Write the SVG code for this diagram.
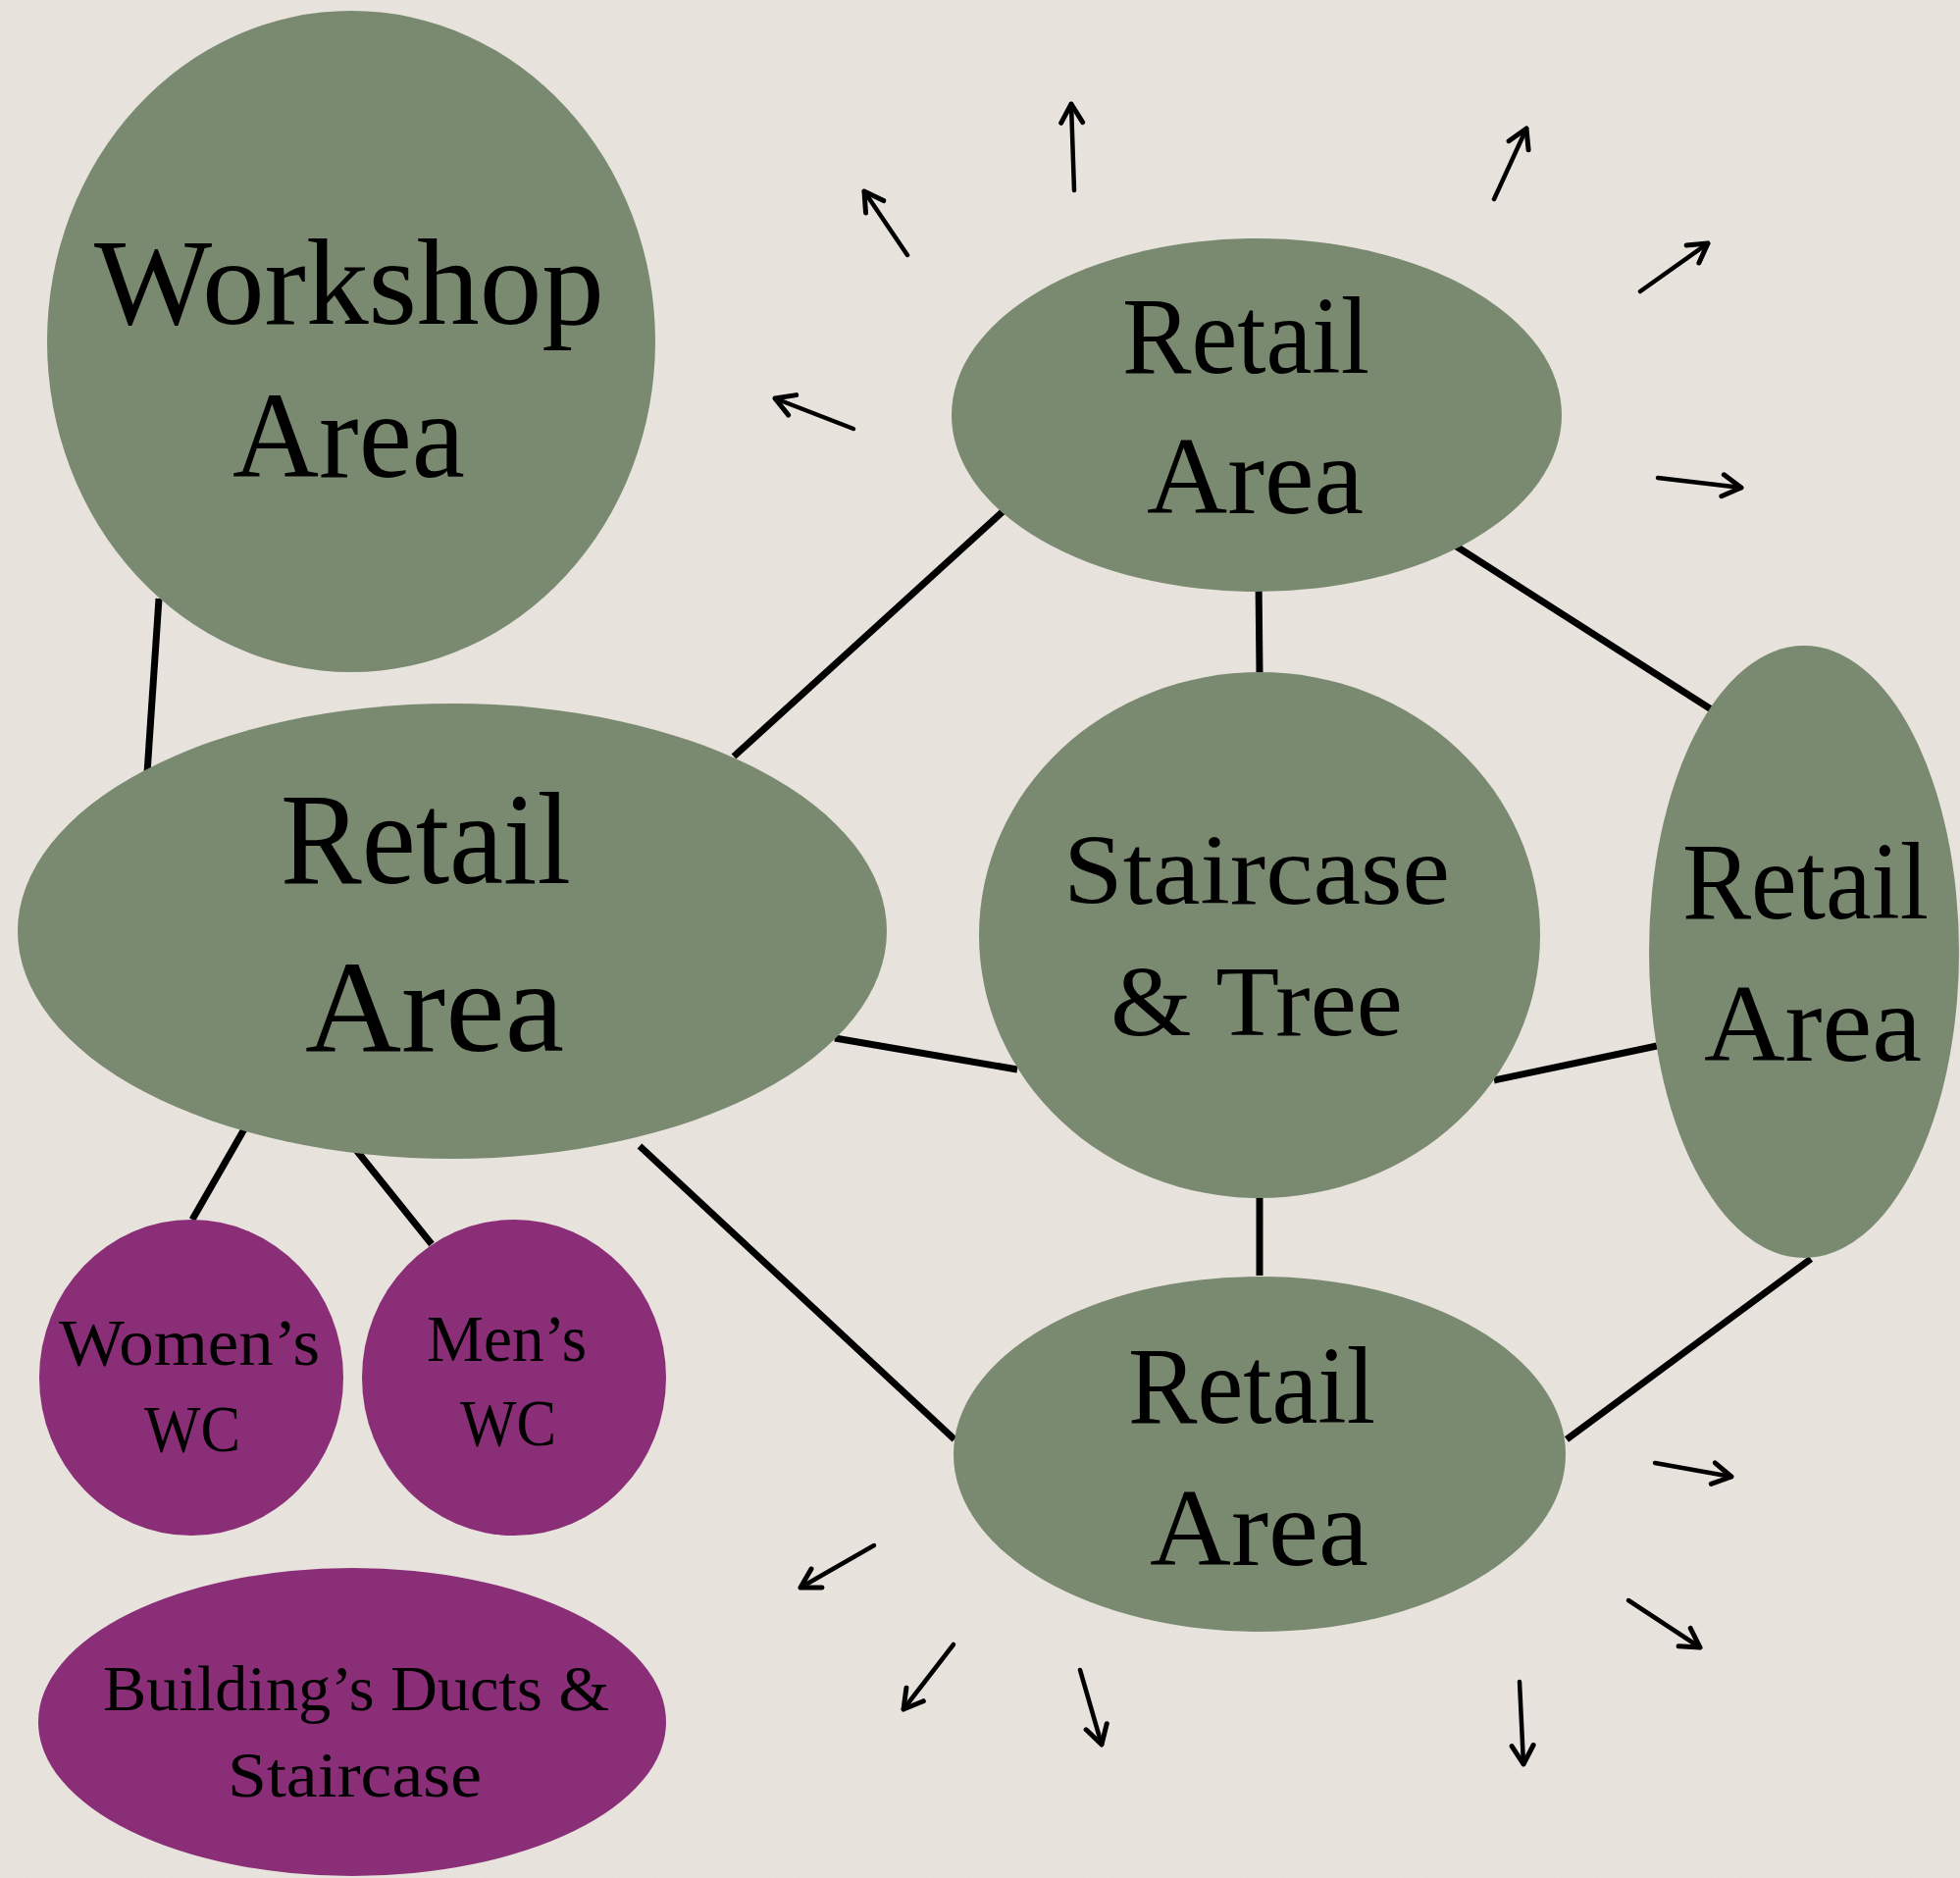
<svg xmlns="http://www.w3.org/2000/svg" width="1998" height="1914" viewBox="0 0 1998 1914">
<defs>
<style>
.g{fill:#7a8a70}
.p{fill:#8a2e78}
.t{font-family:"Liberation Serif","DejaVu Serif",serif;fill:#000}
.c{stroke:#000;stroke-width:7;fill:none;stroke-linecap:butt}
.a{stroke:#000;stroke-width:4.5;fill:none;stroke-linecap:round}
</style>
<marker id="ah" markerUnits="userSpaceOnUse" viewBox="-22 -14 26 28" refX="0" refY="0" markerWidth="26" markerHeight="28" orient="auto">
<path d="M-19,-11 L0,0 L-19,11" fill="none" stroke="#000" stroke-width="5" stroke-linecap="round" stroke-linejoin="round"/>
</marker>
<filter id="noise" x="0" y="0" width="100%" height="100%">
<feTurbulence type="fractalNoise" baseFrequency="0.8" numOctaves="2" seed="3"/>
<feColorMatrix type="matrix" values="0 0 0 0 0.55  0 0 0 0 0.53  0 0 0 0 0.5  0 0 0 -1.6 0.9"/>
</filter>
</defs>
<rect width="1998" height="1914" fill="#e8e3dd"/>
<rect width="1998" height="1914" filter="url(#noise)" opacity="0.12"/>

<g id="connectors">
<line class="c" x1="162" y1="610" x2="150" y2="788"/>
<line class="c" x1="748" y1="771" x2="1027" y2="517"/>
<line class="c" x1="1283" y1="589" x2="1284" y2="686"/>
<line class="c" x1="1477" y1="552" x2="1746" y2="724"/>
<line class="c" x1="851" y1="1058" x2="1037" y2="1090"/>
<line class="c" x1="1523" y1="1101" x2="1689" y2="1066"/>
<line class="c" x1="1284" y1="1221" x2="1284" y2="1300"/>
<line class="c" x1="652" y1="1168" x2="973" y2="1467"/>
<line class="c" x1="1846" y1="1283" x2="1597" y2="1467"/>
<line class="c" x1="250" y1="1149" x2="196" y2="1243"/>
<line class="c" x1="363" y1="1172" x2="440" y2="1268"/>
</g>

<g id="arrows">
<line class="a" marker-end="url(#ah)" x1="1095" y1="194" x2="1092" y2="106"/>
<line class="a" marker-end="url(#ah)" x1="925" y1="260" x2="881" y2="195"/>
<line class="a" marker-end="url(#ah)" x1="870" y1="437" x2="790" y2="406"/>
<line class="a" marker-end="url(#ah)" x1="1523" y1="203" x2="1556" y2="131"/>
<line class="a" marker-end="url(#ah)" x1="1672" y1="297" x2="1741" y2="248"/>
<line class="a" marker-end="url(#ah)" x1="1690" y1="487" x2="1775" y2="497"/>
<line class="a" marker-end="url(#ah)" x1="1687" y1="1491" x2="1765" y2="1505"/>
<line class="a" marker-end="url(#ah)" x1="1660" y1="1631" x2="1733" y2="1679"/>
<line class="a" marker-end="url(#ah)" x1="1549" y1="1714" x2="1553" y2="1798"/>
<line class="a" marker-end="url(#ah)" x1="1101" y1="1702" x2="1123" y2="1778"/>
<line class="a" marker-end="url(#ah)" x1="972" y1="1676" x2="921" y2="1742"/>
<line class="a" marker-end="url(#ah)" x1="891" y1="1575" x2="816" y2="1618"/>
</g>

<g id="workshop">
<ellipse class="g" cx="358" cy="348" rx="310" ry="337"/>
<text class="t" x="96" y="330" font-size="125" textLength="520" lengthAdjust="spacingAndGlyphs">Workshop</text>
<text class="t" x="237" y="486" font-size="125" textLength="237" lengthAdjust="spacingAndGlyphs">Area</text>
</g>

<g id="retail-top">
<ellipse class="g" cx="1281" cy="423" rx="311" ry="180"/>
<text class="t" x="1144" y="380" font-size="112" textLength="252" lengthAdjust="spacingAndGlyphs">Retail</text>
<text class="t" x="1169" y="523" font-size="112" textLength="221" lengthAdjust="spacingAndGlyphs">Area</text>
</g>

<g id="retail-left">
<ellipse class="g" cx="461" cy="949" rx="443" ry="232"/>
<text class="t" x="286" y="900" font-size="134" textLength="296" lengthAdjust="spacingAndGlyphs">Retail</text>
<text class="t" x="311" y="1071" font-size="134" textLength="264" lengthAdjust="spacingAndGlyphs">Area</text>
</g>

<g id="staircase-tree">
<ellipse class="g" cx="1284" cy="953" rx="286" ry="268"/>
<text class="t" x="1084" y="921" font-size="102" textLength="394" lengthAdjust="spacingAndGlyphs">Staircase</text>
<text class="t" x="1132" y="1055" font-size="102" textLength="298" lengthAdjust="spacingAndGlyphs">&amp; Tree</text>
</g>

<g id="retail-right">
<ellipse class="g" cx="1839" cy="970" rx="158" ry="312"/>
<text class="t" x="1715" y="936" font-size="112" textLength="251" lengthAdjust="spacingAndGlyphs">Retail</text>
<text class="t" x="1737" y="1081" font-size="112" textLength="222" lengthAdjust="spacingAndGlyphs">Area</text>
</g>

<g id="retail-bottom">
<ellipse class="g" cx="1284" cy="1482" rx="312" ry="181"/>
<text class="t" x="1150" y="1450" font-size="112" textLength="252" lengthAdjust="spacingAndGlyphs">Retail</text>
<text class="t" x="1172" y="1595" font-size="112" textLength="223" lengthAdjust="spacingAndGlyphs">Area</text>
</g>

<g id="womens-wc">
<ellipse class="p" cx="195" cy="1404" rx="155" ry="161"/>
<text class="t" x="60" y="1391" font-size="68" textLength="266" lengthAdjust="spacingAndGlyphs">Women’s</text>
<text class="t" x="147" y="1479" font-size="68" textLength="98" lengthAdjust="spacingAndGlyphs">WC</text>
</g>

<g id="mens-wc">
<ellipse class="p" cx="524" cy="1404" rx="155" ry="161"/>
<text class="t" x="435" y="1387" font-size="68" textLength="163" lengthAdjust="spacingAndGlyphs">Men’s</text>
<text class="t" x="469" y="1473" font-size="68" textLength="98" lengthAdjust="spacingAndGlyphs">WC</text>
</g>

<g id="building-ducts">
<ellipse class="p" cx="359" cy="1755" rx="320" ry="157"/>
<text class="t" x="105" y="1743" font-size="66" textLength="516" lengthAdjust="spacingAndGlyphs">Building’s Ducts &amp;</text>
<text class="t" x="232" y="1831" font-size="66" textLength="259" lengthAdjust="spacingAndGlyphs">Staircase</text>
</g>
</svg>
